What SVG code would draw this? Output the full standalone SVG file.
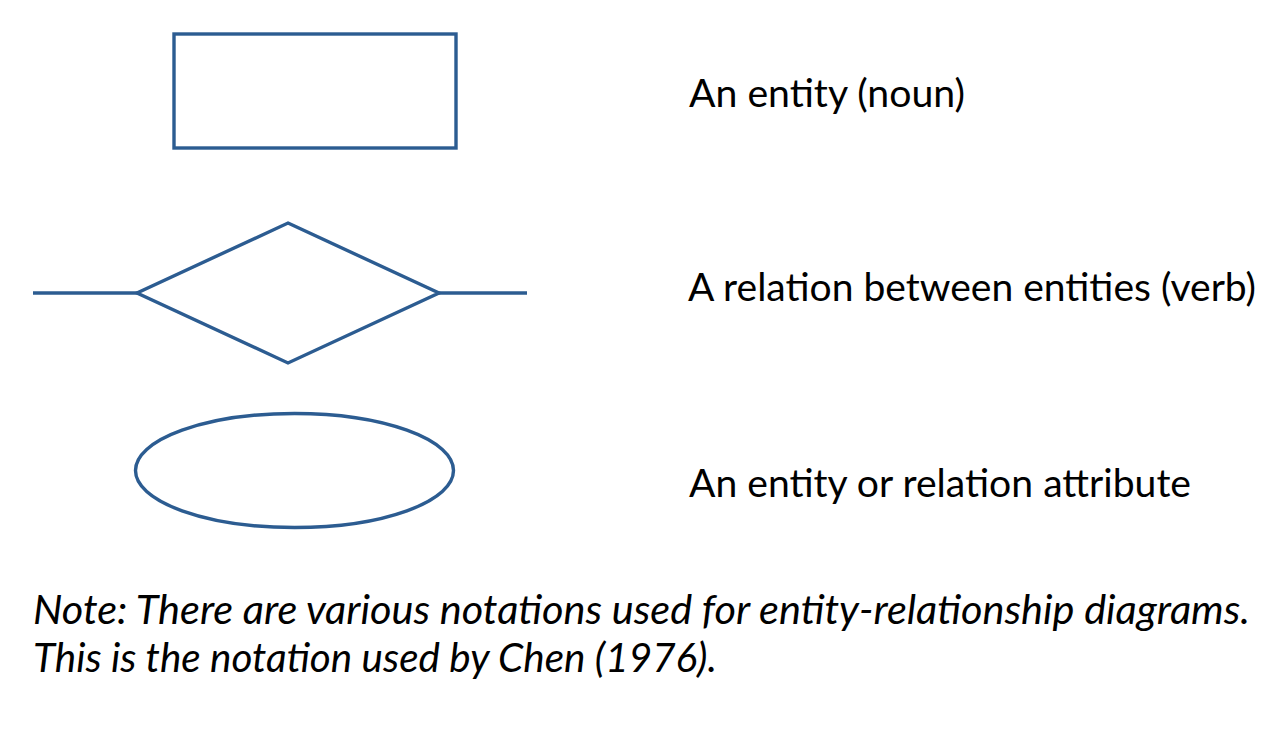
<svg xmlns="http://www.w3.org/2000/svg" width="1280" height="745" viewBox="0 0 1280 745">
<style>
.shape{fill:none;stroke:#2C5C91;stroke-width:3.4;stroke-linejoin:miter}
.lbl{font-family:Lato,"Open Sans","Liberation Sans",sans-serif;font-size:39px;fill:#000}
.note{font-family:Lato,"Open Sans","Liberation Sans",sans-serif;font-size:40px;font-style:italic;fill:#000}
</style>
<rect x="0" y="0" width="1280" height="745" fill="#ffffff"/>
<g id="entity">
<rect class="shape" x="174" y="34" width="282" height="114"/>
</g>
<g id="relation">
<polygon class="shape" points="288,223 439,293 288,363 137,293"/>
</g>
<g id="attribute">
<ellipse class="shape" cx="294.5" cy="470.5" rx="159" ry="57"/>
</g>
<g id="connectors">
<line class="shape" x1="33" y1="293" x2="137" y2="293"/>
<line class="shape" x1="439" y1="293" x2="527" y2="293"/>
</g>
<g id="labels">
<text class="lbl" x="689" y="107" textLength="276" lengthAdjust="spacingAndGlyphs">An entity (noun)</text>
<text class="lbl" x="688" y="301" textLength="568" lengthAdjust="spacingAndGlyphs">A relation between entities (verb)</text>
<text class="lbl" x="689" y="497" textLength="502" lengthAdjust="spacingAndGlyphs">An entity or relation attribute</text>
</g>
<g id="note">
<text class="note" x="33" y="624" textLength="1217" lengthAdjust="spacingAndGlyphs">Note: There are various notations used for entity-relationship diagrams.</text>
<text class="note" x="33" y="672" textLength="684" lengthAdjust="spacingAndGlyphs">This is the notation used by Chen (1976).</text>
</g>
</svg>
